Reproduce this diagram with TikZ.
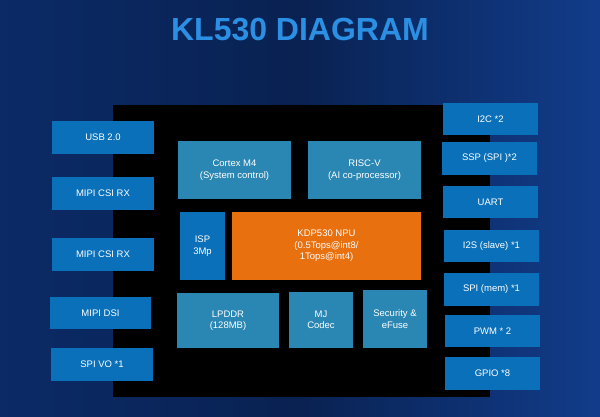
\documentclass[tikz,border=0pt]{standalone}
\usepackage{fontspec}
\setmainfont{Liberation Sans}
\definecolor{bg}{HTML}{0B2A66}
\definecolor{bgl}{HTML}{123C8A}
\definecolor{outb}{HTML}{0A70B9}
\definecolor{inb}{HTML}{2A86B2}
\definecolor{npu}{HTML}{E8700F}
\definecolor{ttl}{HTML}{2B8FE3}
\begin{document}
\begin{tikzpicture}[x=1pt,y=-1pt,
  bx/.style={draw=none,text=white,font=\fontsize{9.5}{11.5}\selectfont,align=center,inner sep=0pt},
  outb/.style={bx,fill=outb},
  inb/.style={bx,fill=inb}]
\newcommand\bbox[6]{\node[#1,minimum width=#4-#2,minimum height=#5-#3] (#6) at ({(#2+#4)/2},{(#3+#5)/2})}
\useasboundingbox (0,0) rectangle (600,417);
\shade[left color=bg,right color=bgl,middle color=bg!80!black] (0,0) rectangle (600,417);
\node[font=\bfseries\fontsize{32}{36}\selectfont,text=ttl] (title) at (300,30) {KL530 DIAGRAM};
\fill[black] (113,105) rectangle (490,397);
\bbox{outb}{52}{121}{154}{154}{usb} {USB 2.0};
\bbox{outb}{52}{177}{154}{210}{csi1} {MIPI CSI RX};
\bbox{outb}{52}{238}{154}{271}{csi2} {MIPI CSI RX};
\bbox{outb}{50}{297}{151}{329}{dsi} {MIPI DSI};
\bbox{outb}{51}{348}{153}{381}{spivo} {SPI VO *1};
\bbox{inb}{178}{141}{291}{199}{m4} {Cortex M4\\(System control)};
\bbox{inb}{308}{141}{421}{199}{riscv} {RISC-V\\(AI co-processor)};
\bbox{outb}{180}{212}{225}{280}{isp} {ISP\\3Mp};
\bbox{bx,fill=npu}{232}{212}{421}{280}{npu} {KDP530 NPU\\(0.5Tops@int8/\\1Tops@int4)};
\bbox{inb}{177}{293}{279}{348}{ddr} {LPDDR\\(128MB)};
\bbox{inb}{289}{292}{353}{348}{mj} {MJ\\Codec};
\bbox{inb}{363}{290}{427}{348}{sec} {Security \&\\eFuse};
\bbox{outb}{443}{103}{538}{135}{i2c} {I2C *2};
\bbox{outb}{442}{142}{537}{175}{ssp} {SSP (SPI )*2};
\bbox{outb}{443}{186}{538}{218}{uart} {UART};
\bbox{outb}{444}{230}{539}{262}{i2s} {I2S (slave) *1};
\bbox{outb}{444}{273}{539}{306}{spim} {SPI (mem) *1};
\bbox{outb}{445}{315}{540}{347}{pwm} {PWM * 2};
\bbox{outb}{445}{357}{540}{390}{gpio} {GPIO *8};
\end{tikzpicture}
\end{document}
